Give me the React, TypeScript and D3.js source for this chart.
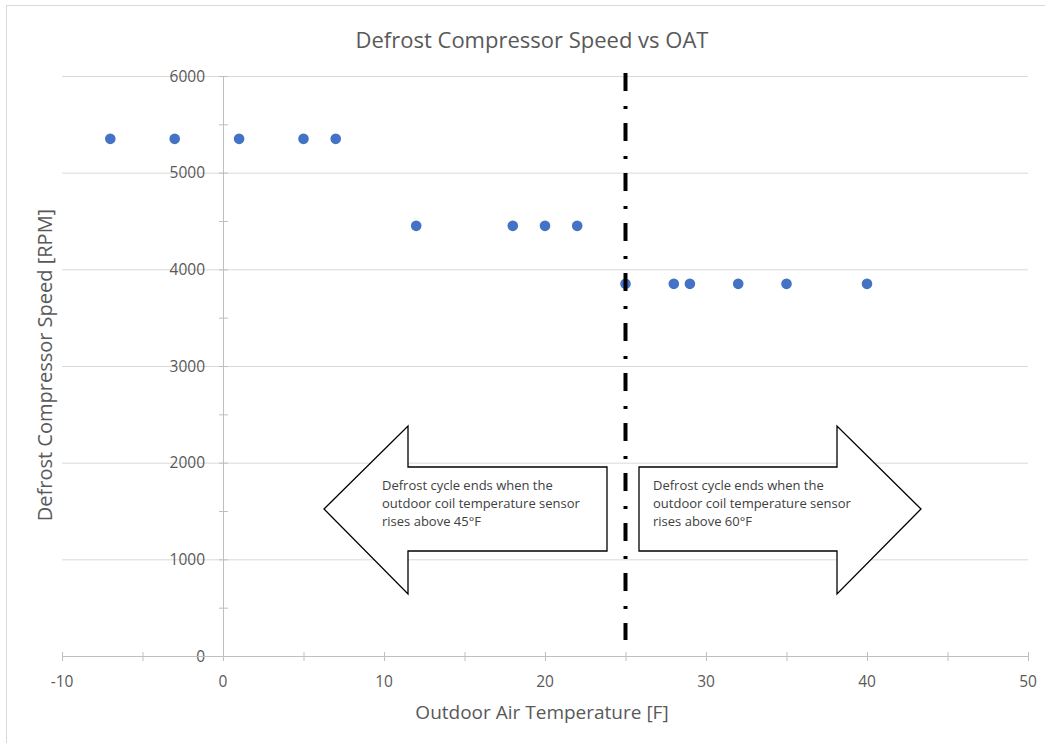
import React from "react";
import * as d3 from "d3";

// Observed defrost compressor speed against outdoor air temperature
const oatF: number[] = [-7, -3, 1, 5, 7, 12, 18, 20, 22, 25, 28, 29, 32, 35, 40];
const speedRpm: number[] = [5350, 5350, 5350, 5350, 5350, 4450, 4450, 4450, 4450, 3850, 3850, 3850, 3850, 3850, 3850];

const xTickValues: number[] = [-10, 0, 10, 20, 30, 40, 50];
const xMinorTicks: number[] = [-10, -5, 0, 5, 10, 15, 20, 25, 30, 35, 40, 45, 50];
const yTickValues: number[] = [0, 1000, 2000, 3000, 4000, 5000, 6000];
const yMinorTicks: number[] = [0, 500, 1000, 1500, 2000, 2500, 3000, 3500, 4000, 4500, 5000, 5500, 6000];

const thresholdOat = 25;
const leftNote: string[] = ["Defrost cycle ends when the", "outdoor coil temperature sensor", "rises above 45°F"];
const rightNote: string[] = ["Defrost cycle ends when the", "outdoor coil temperature sensor", "rises above 60°F"];

const W = 1045;
const H = 743;
const plot = { left: 62, right: 1028, top: 76, bottom: 656 };
const FONT = "'Open Sans', 'Noto Sans', sans-serif";
const TEXT = "#595959";

export default function App() {
  const x = d3.scaleLinear().domain([-10, 50]).range([plot.left, plot.right]);
  const y = d3.scaleLinear().domain([0, 6000]).range([plot.bottom, plot.top]);

  const axisX = x(0);
  const axisY = y(0);
  const lineX = x(thresholdOat);

  // block arrows pointing left and right
  const midY = 509;
  const leftArrow = [
    [324, midY], [408, 426], [408, 467], [607, 467], [607, 551], [408, 551], [408, 594],
  ];
  const rightArrow = [
    [921, midY], [837, 426], [837, 467], [639, 467], [639, 551], [837, 551], [837, 594],
  ];
  const poly = (pts: number[][]) => "M" + pts.map((p) => p.join(",")).join("L") + "Z";

  return (
    <svg
      width={W}
      height={H}
      style={{ position: "absolute", left: 0, top: 0, background: "#fff" }}
      fontFamily={FONT}
    >
      <rect x={6.5} y={5.5} width={W} height={H} fill="#fff" stroke="#d9d9d9" strokeWidth={1} />

      <text x={532} y={48} textAnchor="middle" fontSize={22} fill={TEXT}>
        Defrost Compressor Speed vs OAT
      </text>

      {/* horizontal gridlines */}
      {yTickValues.map((v) => (
        <line key={"g" + v} x1={plot.left} x2={plot.right} y1={y(v) + 0.5} y2={y(v) + 0.5} stroke="#d9d9d9" strokeWidth={1} />
      ))}

      {/* y axis through x = 0 */}
      <line x1={axisX + 0.5} x2={axisX + 0.5} y1={plot.top} y2={plot.bottom} stroke="#bfbfbf" />
      {yMinorTicks.map((v) => (
        <line key={"yt" + v} x1={axisX - 4} x2={axisX + 5} y1={y(v) + 0.5} y2={y(v) + 0.5} stroke="#bfbfbf" />
      ))}
      {yTickValues.map((v) => (
        <text key={"yl" + v} x={205} y={y(v) + 5.5} textAnchor="end" fontSize={15.5} fill={TEXT}>
          {v}
        </text>
      ))}

      {/* x axis through y = 0 */}
      <line x1={plot.left} x2={plot.right} y1={axisY + 0.5} y2={axisY + 0.5} stroke="#bfbfbf" />
      {xMinorTicks.map((v) => (
        <line key={"xt" + v} x1={x(v) + 0.5} x2={x(v) + 0.5} y1={axisY - 4} y2={axisY + 5} stroke="#bfbfbf" />
      ))}
      {xTickValues.map((v) => (
        <text key={"xl" + v} x={x(v)} y={687} textAnchor="middle" fontSize={15.5} fill={TEXT}>
          {v}
        </text>
      ))}

      <text x={542} y={719} textAnchor="middle" fontSize={19} fill={TEXT}>
        Outdoor Air Temperature [F]
      </text>
      <text
        transform={`translate(52,365) rotate(-90)`}
        textAnchor="middle"
        fontSize={20}
        fill={TEXT}
      >
        Defrost Compressor Speed [RPM]
      </text>

      {/* data points */}
      {oatF.map((t, i) => (
        <circle key={"p" + i} cx={x(t)} cy={y(speedRpm[i])} r={5.3} fill="#4472c4" />
      ))}

      {/* threshold marker */}
      <line
        x1={lineX}
        x2={lineX}
        y1={73}
        y2={640}
        stroke="#000"
        strokeWidth={4}
        strokeDasharray="18 15 3 14"
      />

      {/* annotations */}
      <path d={poly(leftArrow)} fill="#fff" stroke="#000" strokeWidth={1.3} />
      <path d={poly(rightArrow)} fill="#fff" stroke="#000" strokeWidth={1.3} />
      {leftNote.map((s, i) => (
        <text key={"ln" + i} x={382} y={490 + i * 18} fontSize={13} fill="#404040">
          {s}
        </text>
      ))}
      {rightNote.map((s, i) => (
        <text key={"rn" + i} x={653} y={490 + i * 18} fontSize={13} fill="#404040">
          {s}
        </text>
      ))}
    </svg>
  );
}
